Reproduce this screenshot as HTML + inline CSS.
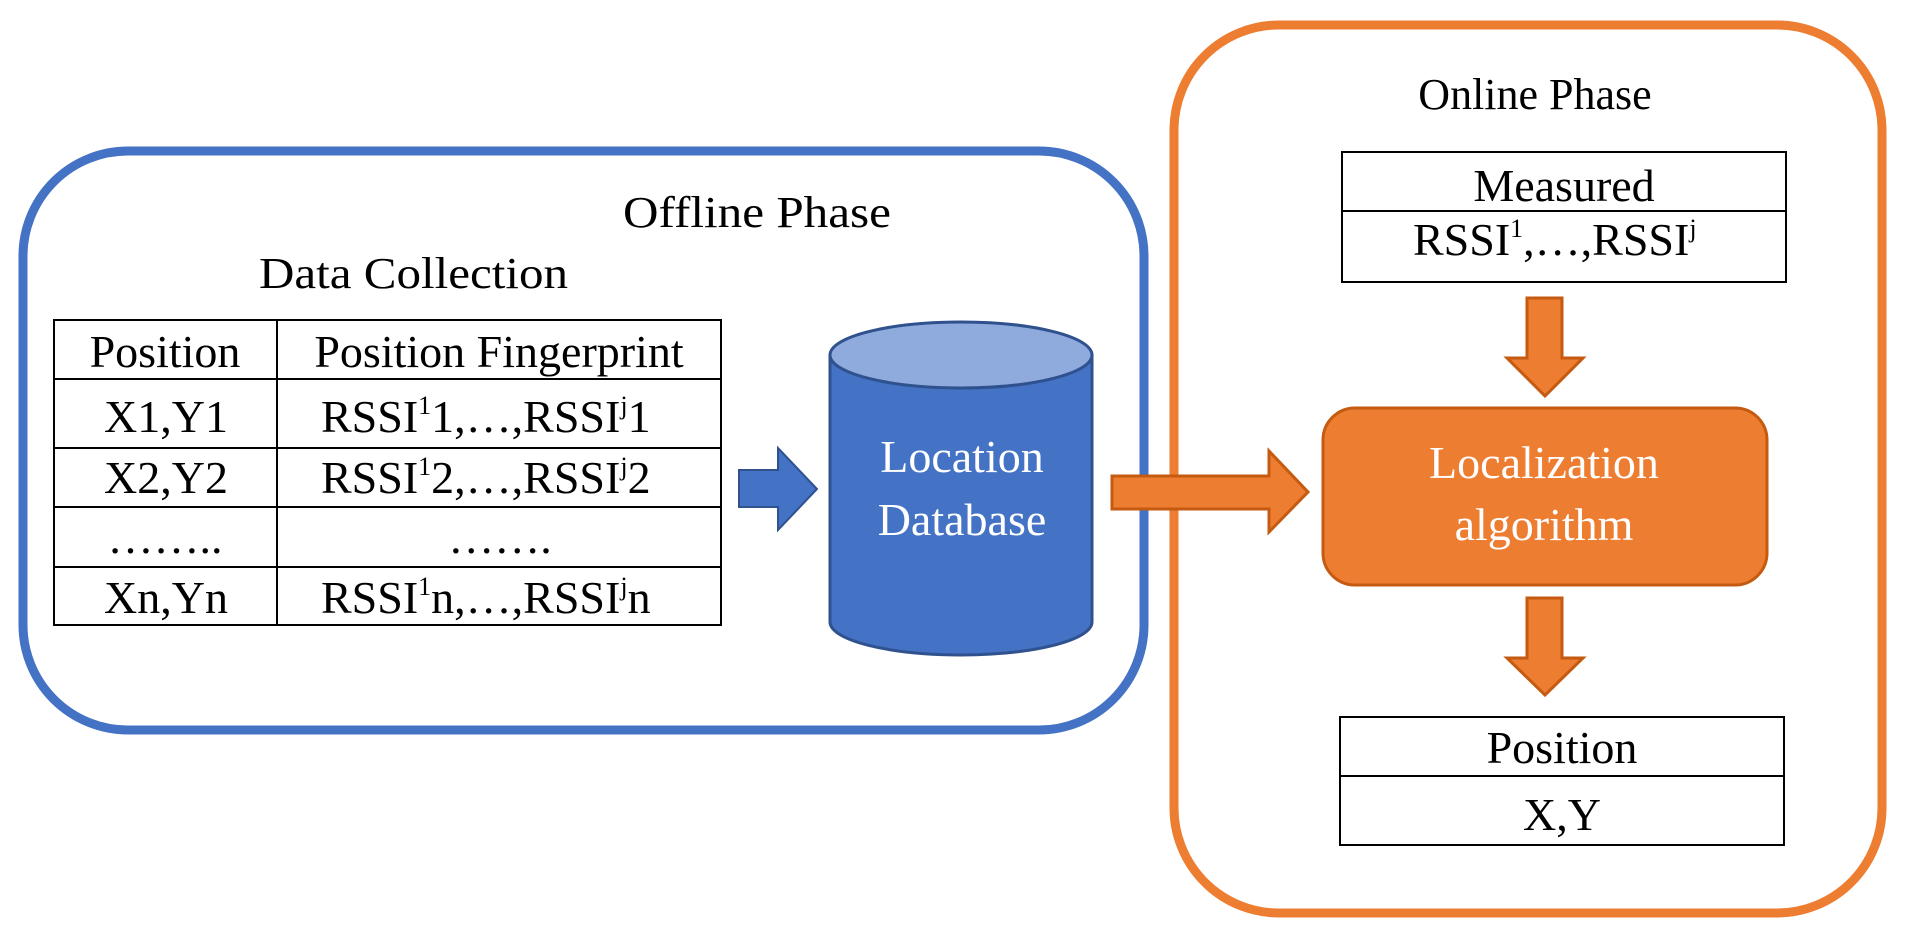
<!DOCTYPE html>
<html><head><meta charset="utf-8"><style>
html,body{margin:0;padding:0;background:#fff;}
svg{display:block;}
text{font-family:"Liberation Serif",serif;}
</style></head><body>
<svg width="1912" height="948" viewBox="0 0 1912 948" xmlns="http://www.w3.org/2000/svg">
<rect x="23" y="151" width="1121" height="579" rx="105" fill="#fff" stroke="#4472C4" stroke-width="9"/>
<rect x="1174" y="25" width="708" height="888" rx="105" fill="#fff" stroke="#ED7D31" stroke-width="9"/>

<text x="623" y="227" font-size="44" textLength="268" lengthAdjust="spacingAndGlyphs">Offline Phase</text>
<text x="259" y="288" font-size="44" textLength="309" lengthAdjust="spacingAndGlyphs">Data Collection</text>

<g stroke="#000" stroke-width="2" fill="none">
<rect x="54" y="320" width="667" height="305"/>
<line x1="277" y1="320" x2="277" y2="625"/>
<line x1="54" y1="379" x2="721" y2="379"/>
<line x1="54" y1="448" x2="721" y2="448"/>
<line x1="54" y1="507" x2="721" y2="507"/>
<line x1="54" y1="567" x2="721" y2="567"/>
</g>
<g font-size="46" text-anchor="middle">
<text x="165" y="367">Position</text>
<text x="499" y="367">Position Fingerprint</text>
<text x="166" y="432">X1,Y1</text>
<text x="166" y="493">X2,Y2</text>
<text x="165" y="553">……..</text>
<text x="500" y="553">…….</text>
<text x="166" y="613">Xn,Yn</text>
</g>
<g font-size="46">
<text x="321" y="432">RSSI<tspan font-size="26" dy="-18">1</tspan><tspan dy="18">1,…,RSSI</tspan><tspan font-size="26" dy="-18">j</tspan><tspan dy="18">1</tspan></text>
<text x="321" y="493">RSSI<tspan font-size="26" dy="-18">1</tspan><tspan dy="18">2,…,RSSI</tspan><tspan font-size="26" dy="-18">j</tspan><tspan dy="18">2</tspan></text>
<text x="321" y="613">RSSI<tspan font-size="26" dy="-18">1</tspan><tspan dy="18">n,…,RSSI</tspan><tspan font-size="26" dy="-18">j</tspan><tspan dy="18">n</tspan></text>
</g>

<polygon points="739,470 778,470 778,448 817,489 778,530 778,507 739,507" fill="#4472C4" stroke="#2F528F" stroke-width="2"/>

<path d="M830,355 L830,622 A131,33 0 0 0 1092,622 L1092,355 Z" fill="#4472C4" stroke="#2F528F" stroke-width="3"/>
<ellipse cx="961" cy="355" rx="131" ry="33" fill="#8FAADC" stroke="#2F528F" stroke-width="3"/>
<g font-size="46" fill="#fff" text-anchor="middle">
<text x="962" y="472">Location</text>
<text x="962" y="535">Database</text>
</g>

<polygon points="1112,476 1269,476 1269,451 1308,492 1269,532 1269,509 1112,509" fill="#ED7D31" stroke="#C55A11" stroke-width="3"/>

<text x="1535" y="109" font-size="44" text-anchor="middle">Online Phase</text>

<g stroke="#000" stroke-width="2" fill="#fff">
<rect x="1342" y="152" width="444" height="130"/>
<line x1="1342" y1="211" x2="1786" y2="211"/>
<rect x="1340" y="717" width="444" height="128"/>
<line x1="1340" y1="776" x2="1784" y2="776"/>
</g>
<g font-size="46" text-anchor="middle">
<text x="1564" y="201">Measured</text>
<text x="1562" y="763">Position</text>
<text x="1562" y="830">X,Y</text>
</g>
<text x="1413" y="255" font-size="46">RSSI<tspan font-size="26" dy="-18">1</tspan><tspan dy="18">,…,RSSI</tspan><tspan font-size="26" dy="-18">j</tspan></text>

<polygon points="1527,298 1562,298 1562,358 1583,358 1545,396 1507,358 1527,358" fill="#ED7D31" stroke="#C55A11" stroke-width="3"/>
<polygon points="1527,598 1562,598 1562,658 1583,658 1545,695 1507,658 1527,658" fill="#ED7D31" stroke="#C55A11" stroke-width="3"/>

<rect x="1323" y="408" width="444" height="177" rx="32" fill="#ED7D31" stroke="#C55A11" stroke-width="3"/>
<g font-size="46" fill="#fff" text-anchor="middle">
<text x="1544" y="478">Localization</text>
<text x="1544" y="540">algorithm</text>
</g>
</svg>
</body></html>
